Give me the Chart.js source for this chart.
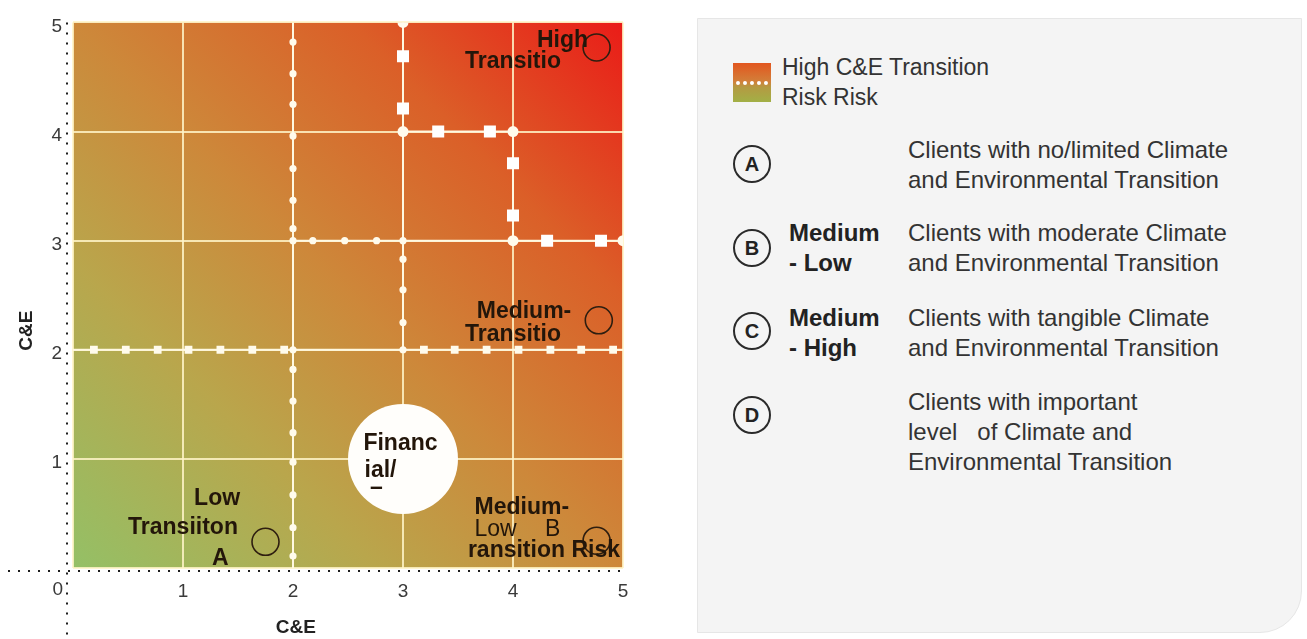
<!DOCTYPE html>
<html>
<head>
<meta charset="utf-8">
<script src="https://cdn.jsdelivr.net/npm/chart.js@4.4.0/dist/chart.umd.min.js"></script>
<style>
  html, body { margin: 0; padding: 0; background: #fff; }
  body { width: 1307px; height: 639px; position: relative; overflow: hidden; font-family: 'Liberation Sans', Arial, sans-serif; }
  #chartBox { position: absolute; left: 0; top: 0; width: 660px; height: 639px; }
  #legendPanel { position: absolute; left: 697px; top: 18px; width: 605px; height: 615px; box-sizing: border-box;
    background: #f4f4f4; border: 1px solid #e6e6e6; border-bottom-right-radius: 42px; }
  .lg { position: absolute; color: #333; font-size: 24px; line-height: 30px; white-space: pre; }
  .lg.head { font-size: 23px; }
  .lg.bold { font-weight: bold; font-size: 24px; color: #222; }
  .badge { position: absolute; width: 38px; height: 38px; box-sizing: border-box; border: 2px solid #2a2a2a; border-radius: 50%;
    font-weight: bold; font-size: 20px; line-height: 34px; text-align: center; color: #222; }
  #swatch { position: absolute; left: 733px; top: 63px; width: 38px; height: 39px;
    background: linear-gradient(to bottom, #e2561f 0%, #d2803a 48%, #b49a42 62%, #a2b046 100%); }
  #swatch span { position: absolute; left: 3px; right: 3px; top: 18px; border-top: 4px dotted #fff; }
</style>
</head>
<body>
<div id="chartBox"><canvas id="riskChart"></canvas></div>

<div id="legendPanel"></div>
<div id="swatch"><span></span></div>
<div class="lg head" style="left:782px; top:52px;">High C&amp;E Transition
Risk Risk</div>

<div class="badge" style="left:733px; top:145px;">A</div>
<div class="lg" style="left:908px; top:135px;">Clients with no/limited Climate
and Environmental Transition</div>

<div class="badge" style="left:733px; top:229px;">B</div>
<div class="lg bold" style="left:789px; top:218px;">Medium
- Low</div>
<div class="lg" style="left:908px; top:218px;">Clients with moderate Climate
and Environmental Transition</div>

<div class="badge" style="left:733px; top:312px;">C</div>
<div class="lg bold" style="left:789px; top:303px;">Medium
- High</div>
<div class="lg" style="left:908px; top:303px;">Clients with tangible Climate
and Environmental Transition</div>

<div class="badge" style="left:733px; top:396px;">D</div>
<div class="lg" style="left:908px; top:387px;">Clients with important
level   of Climate and
Environmental Transition</div>

<script>
  // axis ticks (score 0..5 on both axes)
  const xTicks = [0, 1, 2, 3, 4, 5];
  const yTicks = [0, 1, 2, 3, 4, 5];

  // zone boundaries as [x1, y1, x2, y2]
  const zoneBoundaries = [
    [0, 2, 2, 2],
    [2, 0, 2, 5],
    [2, 2, 5, 2],
    [2, 3, 5, 3],
    [3, 2, 3, 5],
    [3, 4, 4, 4],
    [4, 3, 4, 4]
  ];

  // markers sitting on the boundaries
  const bigSquarePoints = [[3, 4.69], [3, 4.21], [3.32, 4], [3.79, 4], [4, 3.71], [4, 3.23], [4.31, 3], [4.8, 3]];
  const bigDotPoints = [[3, 5], [3, 4], [4, 4], [4, 3], [5, 3]];
  const smallSquarePoints = [
    [0.19, 2], [0.48, 2], [0.77, 2], [1.05, 2], [1.34, 2], [1.63, 2], [1.92, 2],
    [3.19, 2], [3.47, 2], [3.76, 2], [4.05, 2], [4.34, 2], [4.62, 2], [4.91, 2]
  ];
  const smallDotPoints = [
    [2, 0.11], [2, 0.37], [2, 0.67], [2, 0.97], [2, 1.24], [2, 1.53], [2, 1.82], [2, 2],
    [2, 3], [2, 3.11], [2, 3.37], [2, 3.66], [2, 3.96], [2, 4.25], [2, 4.53], [2, 4.82],
    [2.18, 3], [2.47, 3], [2.76, 3], [3, 3], [3, 2.83], [3, 2.55], [3, 2.25], [3, 2]
  ];

  // client groups A, B, C, D and the financial marker
  const clientPoints = [[1.75, 0.24], [4.76, 0.25], [4.78, 2.27], [4.76, 4.77]];
  const financialPoint = [[3, 1]];

  // zone captions: text, anchor (score units), alignment, bold
  const zoneLabels = [
    ['High', 4.45, 4.83, 'center', true],
    ['Transitio', 4.0, 4.64, 'center', true],
    ['Medium-', 4.1, 2.35, 'center', true],
    ['Transitio', 4.0, 2.14, 'center', true],
    ['Low', 1.31, 0.64, 'center', true],
    ['Transiiton', 1.0, 0.37, 'center', true],
    ['A', 1.34, 0.09, 'center', true],
    ['Financ', 2.64, 1.14, 'left', true],
    ['ial/', 2.65, 0.89, 'left', true],
    ['\u2013', 2.7, 0.74, 'left', true],
    ['Medium-', 3.65, 0.55, 'left', true],
    ['Low', 3.65, 0.35, 'left', false],
    ['B', 4.29, 0.35, 'left', false],
    ['ransition Risk', 3.59, 0.16, 'left', true]
  ];

  const toXY = p => ({ x: p[0], y: p[1] });
  const gridColor = 'rgba(255, 244, 200, 0.85)';
  const markColor = '#fffbec';

  const datasets = [];
  zoneBoundaries.forEach(b => {
    datasets.push({
      data: [{ x: b[0], y: b[1] }, { x: b[2], y: b[3] }],
      showLine: true,
      borderColor: 'rgba(255, 250, 228, 0.95)',
      borderWidth: 2,
      pointRadius: 0,
      order: 6
    });
  });
  datasets.push({ data: smallDotPoints.map(toXY), pointStyle: 'circle', pointRadius: 3.6, backgroundColor: markColor, borderWidth: 0, order: 5 });
  datasets.push({ data: smallSquarePoints.map(toXY), pointStyle: 'rect', pointRadius: 5.5, backgroundColor: markColor, borderWidth: 0, order: 5 });
  datasets.push({ data: bigDotPoints.map(toXY), pointStyle: 'circle', pointRadius: 5.5, backgroundColor: markColor, borderWidth: 0, order: 5 });
  datasets.push({ data: bigSquarePoints.map(toXY), pointStyle: 'rect', pointRadius: 8.5, backgroundColor: '#ffffff', borderWidth: 0, order: 5 });
  datasets.push({ data: financialPoint.map(toXY), pointStyle: 'circle', pointRadius: 55, backgroundColor: '#fffefb', borderWidth: 0, order: 3 });
  datasets.push({ data: clientPoints.map(toXY), pointStyle: 'circle', pointRadius: 13.5, backgroundColor: 'rgba(0,0,0,0)', borderColor: '#2e1e10', borderWidth: 1.6, order: 2 });

  const heatBackground = {
    id: 'heatBackground',
    beforeDraw(chart) {
      const { ctx, chartArea: a } = chart;
      const g = ctx.createLinearGradient(a.left, a.bottom, a.right, a.top);
      g.addColorStop(0, '#94c066');
      g.addColorStop(0.28, '#b9a64c');
      g.addColorStop(0.5, '#cd883a');
      g.addColorStop(0.75, '#db5f28');
      g.addColorStop(1, '#ea1c18');
      ctx.save();
      ctx.fillStyle = g;
      ctx.fillRect(a.left, a.top, a.right - a.left, a.bottom - a.top);
      ctx.restore();
    }
  };

  const zoneText = {
    id: 'zoneText',
    afterDatasetsDraw(chart) {
      const { ctx, chartArea: a, scales } = chart;
      ctx.save();
      ctx.beginPath();
      ctx.rect(a.left, a.top, a.right - a.left, a.bottom - a.top);
      ctx.clip();
      ctx.fillStyle = '#23160a';
      ctx.textBaseline = 'middle';
      zoneLabels.forEach(l => {
        ctx.font = (l[4] ? 'bold ' : '') + "23px 'Liberation Sans', Arial, sans-serif";
        ctx.textAlign = l[3];
        ctx.fillText(l[0], scales.x.getPixelForValue(l[1]), scales.y.getPixelForValue(l[2]));
      });
      ctx.restore();
    }
  };

  const dottedAxes = {
    id: 'dottedAxes',
    afterDraw(chart) {
      const { ctx, chartArea: a } = chart;
      ctx.save();
      ctx.strokeStyle = '#1e1e1e';
      ctx.lineWidth = 2;
      ctx.setLineDash([2, 8]);
      ctx.beginPath();
      ctx.moveTo(a.left - 6, a.top);
      ctx.lineTo(a.left - 6, chart.height);
      ctx.moveTo(8, a.bottom + 3);
      ctx.lineTo(a.right, a.bottom + 3);
      ctx.stroke();
      ctx.setLineDash([]);

      ctx.fillStyle = '#3a3a3a';
      ctx.font = "19px 'Liberation Sans', Arial, sans-serif";
      ctx.textAlign = 'right';
      ctx.textBaseline = 'middle';
      ctx.fillText(String(xTicks[0]), a.left - 10, a.bottom + 22);

      ctx.fillStyle = '#222';
      ctx.font = "bold 19px 'Liberation Sans', Arial, sans-serif";
      ctx.textAlign = 'center';
      ctx.fillText('C&E', a.left + 0.405 * (a.right - a.left), a.bottom + 60);
      ctx.translate(a.left - 46, a.top + 0.565 * (a.bottom - a.top));
      ctx.rotate(-Math.PI / 2);
      ctx.fillText('C&E', 0, 0);
      ctx.restore();
    }
  };

  new Chart(document.getElementById('riskChart'), {
    type: 'scatter',
    data: { datasets },
    plugins: [heatBackground, zoneText, dottedAxes],
    options: {
      responsive: true,
      maintainAspectRatio: false,
      animation: false,
      events: [],
      layout: { autoPadding: false, padding: { top: 18, right: 37, left: 0, bottom: 0 } },
      plugins: { legend: { display: false }, tooltip: { enabled: false } },
      scales: {
        x: {
          type: 'linear',
          min: xTicks[0],
          max: xTicks[xTicks.length - 1],
          afterBuildTicks: s => { s.ticks = xTicks.map(v => ({ value: v })); },
          afterFit: s => { s.height = 71; },
          ticks: {
            padding: 12,
            color: '#3a3a3a',
            font: { family: "'Liberation Sans', Arial, sans-serif", size: 19 },
            callback: v => (v === 0 ? '' : v)
          },
          grid: { color: gridColor, lineWidth: 2, drawTicks: false },
          border: { display: false }
        },
        y: {
          type: 'linear',
          min: yTicks[0],
          max: yTicks[yTicks.length - 1],
          afterBuildTicks: s => { s.ticks = yTicks.map(v => ({ value: v })); },
          afterFit: s => { s.width = 73; },
          ticks: {
            padding: 11,
            labelOffset: 4,
            color: '#3a3a3a',
            font: { family: "'Liberation Sans', Arial, sans-serif", size: 19 },
            callback: v => (v === 0 ? '' : v)
          },
          grid: { color: gridColor, lineWidth: 2, drawTicks: false },
          border: { display: false }
        }
      }
    }
  });
</script>
</body>
</html>
